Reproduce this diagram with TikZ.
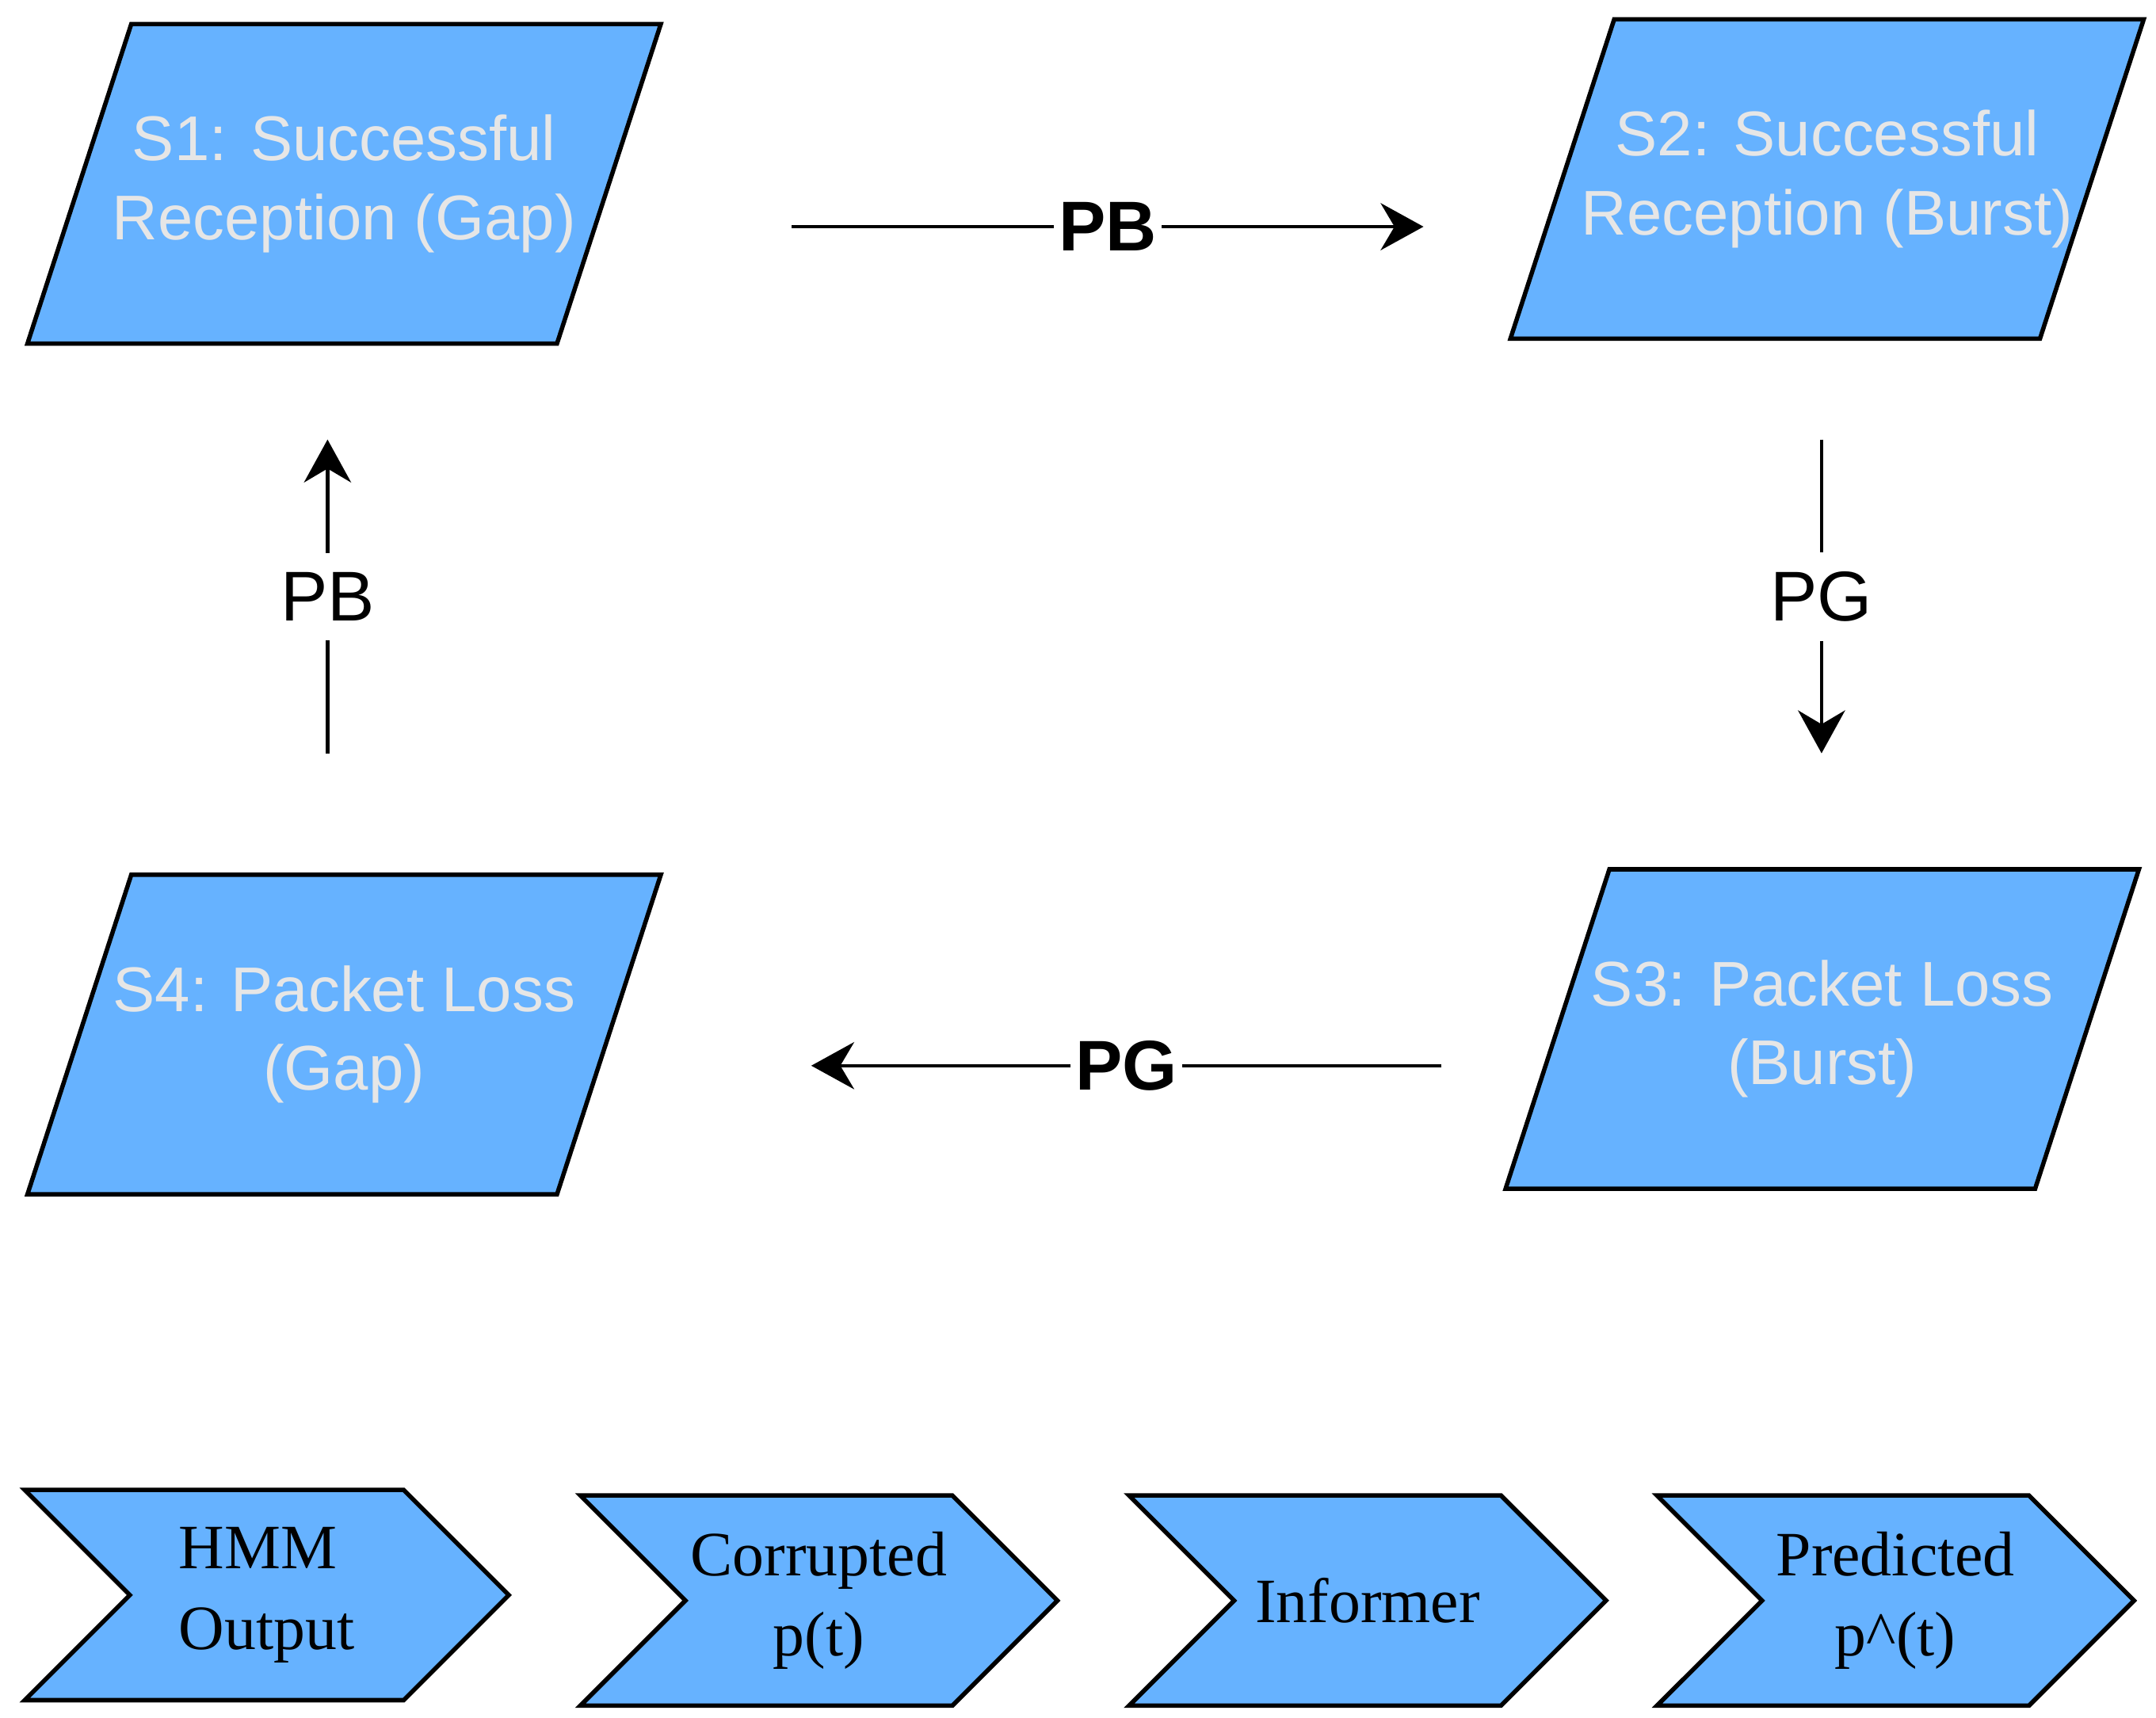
\documentclass[tikz,border=0pt]{standalone}
\usepackage{fontspec}
\setmainfont{Liberation Sans}
\newfontfamily\chevfont{Liberation Serif}
\usetikzlibrary{arrows.meta}
\usetikzlibrary{shapes.geometric}
\usetikzlibrary{shapes.symbols}
\definecolor{stateblue}{HTML}{66B2FF}
\definecolor{statetext}{HTML}{E6E6E6}
\tikzset{state/.style = {trapezium, trapezium left angle = 72, trapezium right angle = 108,
                         trapezium stretches body, minimum width = 4.58cm, minimum height = 2.3cm,
                         inner xsep = -0.25cm, inner ysep = 0.6575cm,
                         draw, line width = 0.9pt, fill = stateblue, text = statetext,
                         align = center, font = \fontsize{13}{16.2}\selectfont}}
\tikzset{chevron/.style = {signal, signal to = east, signal from = west, signal pointer angle = 90,
                           minimum width = 3.45cm, minimum height = 1.52cm, inner xsep = 0,
                           draw, line width = 0.9pt, fill = stateblue, align = center,
                           font = \chevfont\fontsize{13}{16.5}\selectfont}}
\tikzset{flow/.style = {line width = 0.75pt, -{Stealth[length = 0.31cm, width = 0.34cm, inset = 0.1cm]}}}
\tikzset{plab/.style = {fill = white, inner xsep = 1pt, inner ysep = 4pt,
                        font = \fontsize{14.5}{17}\selectfont}}
\tikzset{plabbold/.style = {plab, font = \bfseries\fontsize{14.5}{17}\selectfont}}

\begin{document}
\begin{tikzpicture}[x = 0.01cm, y = -0.01cm]
      \useasboundingbox (0, 0) rectangle (1560, 1242.5);
      % states of the channel
      \node [state] (s1) at (249, 133) {S1: Successful\\Reception (Gap)};
      \node [state] (s2) at (1322, 129.5) {S2: Successful\\Reception (Burst)};
      \node [state] (s3) at (1318.5, 744.5) {S3: Packet Loss\\(Burst)};
      \node [state] (s4) at (249, 748.5) {S4: Packet Loss\\(Gap)};
      % transitions
      \coordinate (t12a) at (573, 164);
      \coordinate (t12b) at (1030, 164);
      \coordinate (t23a) at (1318, 318);
      \coordinate (t23b) at (1318, 545);
      \coordinate (t34a) at (1043, 771);
      \coordinate (t34b) at (587, 771);
      \coordinate (t41a) at (237, 545);
      \coordinate (t41b) at (237, 318);
      \draw [flow] (t12a) -- (t12b) node [pos = 0.5, plabbold] {PB};
      \draw [flow] (t23a) -- (t23b) node [pos = 0.5, plab] {PG};
      \draw [flow] (t34a) -- (t34b) node [pos = 0.5, plabbold] {PG};
      \draw [flow] (t41a) -- (t41b) node [pos = 0.5, plab] {PB};
      % pipeline
      \node [chevron, minimum width = 3.5cm, align = left] (hmm) at (193, 1154) {HMM\\Output};
      \node [chevron] (corr) at (592.5, 1158) {Corrupted\\p(t)};
      \node [chevron] (inf) at (989.5, 1158) {Informer};
      \node [chevron] (pred) at (1371.5, 1158) {Predicted\\p\^{}(t)};
\end{tikzpicture}
\end{document}
